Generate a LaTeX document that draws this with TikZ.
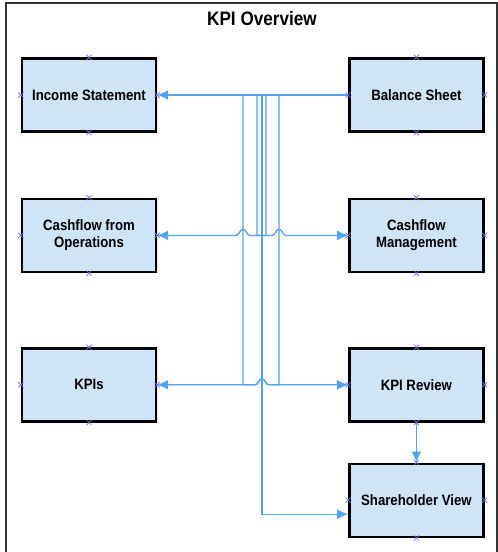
\documentclass[tikz,border=0pt]{standalone}
\usepackage{fontspec}
\setmainfont{Liberation Sans}[FakeStretch=0.88]
\usetikzlibrary{arrows.meta, positioning, shapes.misc, shadows}
\definecolor{boxfill}{RGB}{206,228,247}
\definecolor{linkblue}{RGB}{82,162,242}
\definecolor{markblue}{RGB}{104,116,230}
\begin{document}
\begin{tikzpicture}[x=1pt, y=-1pt,
        stmt/.style = {draw, line width=2.4pt, fill=boxfill, minimum width=134pt, minimum height=73pt,
          font=\bfseries\fontsize{15}{17}\selectfont, align=center,
          drop shadow={shadow xshift=1.5pt, shadow yshift=-1.5pt, opacity=0.2}},
        link/.style = {draw=linkblue, line width=1.3pt, -{Latex[length=11pt,width=10pt]}},
        conpt/.style = {cross out, draw=markblue, line width=0.7pt, minimum size=4.5pt, inner sep=0pt},
      ]
      \useasboundingbox (0,0) rectangle (498,552);
      \draw[line width=1.4pt, black!80] (6,552) -- (6,3) -- (497,3) -- (497,552);
      \node[font=\bfseries\fontsize{19.5}{22}\selectfont] (title) at (262,19) {KPI Overview};

      \node[stmt] (inc) at (89,95) {Income Statement};
      \node[stmt, right=191pt of inc] (bal) {Balance Sheet};
      \node[stmt, below=65pt of inc] (cfo) {Cashflow from\\Operations};
      \node[stmt, right=191pt of cfo] (cfm) {Cashflow\\Management};
      \node[stmt, below=74pt of cfo] (kpi) {KPIs};
      \node[stmt, right=191pt of kpi] (kpr) {KPI Review};
      \node[stmt, below=40pt of kpr] (shv) {Shareholder View};

      \coordinate (v1) at (243,95);
      \coordinate (v2) at (257,95);
      \coordinate (v3) at (262,95);
      \coordinate (v4) at (266,95);
      \coordinate (v5) at (279,95);
      \coordinate (shvin) at ([yshift=-14pt]shv.west);

      \draw[link] (bal.west) -- (inc.east);
      \draw[link] (bal.west) -| (v4 |- cfo.east) -- ([xshift=7pt]v1 |- cfo.east)
        to[out=180, in=0] ([yshift=6pt]v1 |- cfo.east) to[out=180, in=0] ([xshift=-7pt]v1 |- cfo.east) -- (cfo.east);
      \draw[link] (bal.west) -| (v2 |- cfm.west) -- ([xshift=-7pt]v5 |- cfm.west)
        to[out=0, in=180] ([yshift=6pt]v5 |- cfm.west) to[out=0, in=180] ([xshift=7pt]v5 |- cfm.west) -- (cfm.west);
      \draw[link] (bal.west) -| (v5 |- kpi.east) -- ([xshift=7pt]v3 |- kpi.east)
        to[out=180, in=0] ([yshift=6pt]v3 |- kpi.east) to[out=180, in=0] ([xshift=-7pt]v3 |- kpi.east) -- (kpi.east);
      \draw[link] (bal.west) -| (v1 |- kpr.west) -- ([xshift=-7pt]v3 |- kpr.west)
        to[out=0, in=180] ([yshift=6pt]v3 |- kpr.west) to[out=0, in=180] ([xshift=7pt]v3 |- kpr.west) -- (kpr.west);
      \draw[link] (bal.west) -| (v3 |- shvin) -- (shvin);
      \draw[link] (kpr.south) -- (shv.north);

      \foreach \b in {inc, bal, cfo, cfm, kpi, kpr, shv}
        \foreach \a in {north, south, east, west}
          \node[conpt] (\b-\a) at (\b.\a) {};
    \end{tikzpicture}
\end{document}
